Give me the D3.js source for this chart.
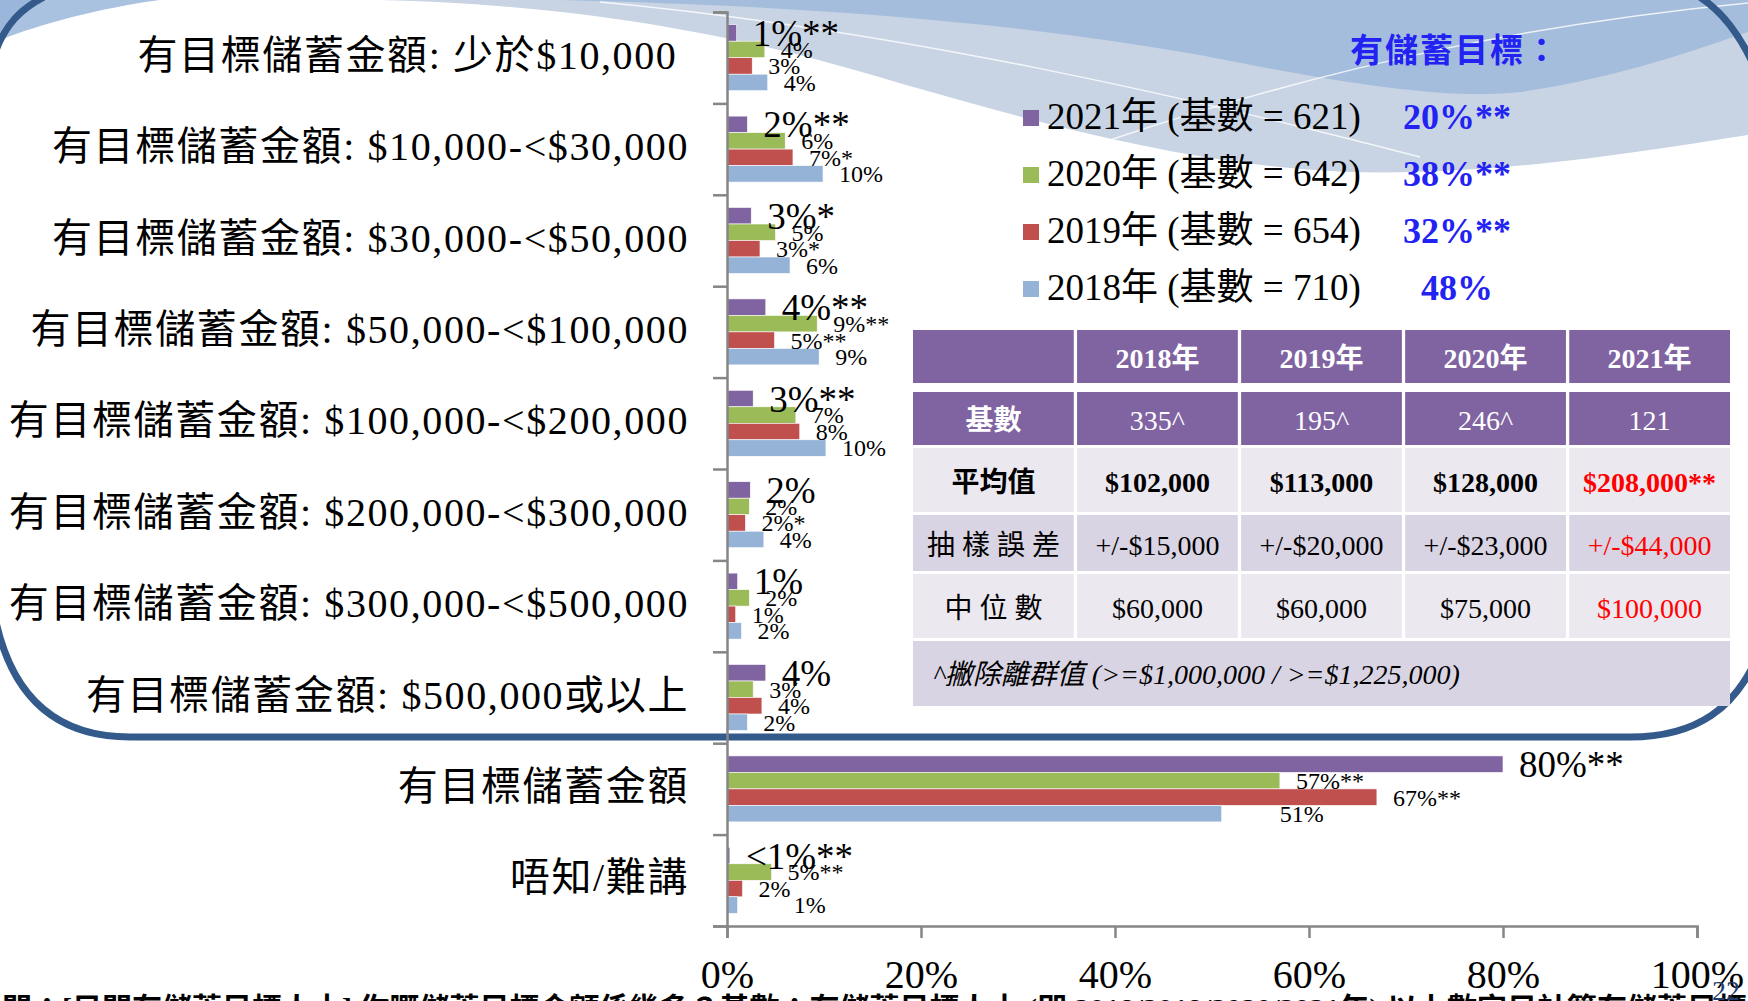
<!DOCTYPE html>
<html>
<head>
<meta charset="utf-8">
<script src="https://cdn.jsdelivr.net/npm/d3@7"></script>
<style>
html, body { margin: 0; padding: 0; background: #fff; overflow: hidden; }
svg { display: block; }
text { font-family: 'Liberation Serif', 'Times New Roman', 'Noto Sans CJK TC', serif; }
</style>
</head>
<body>
<svg id="chart" width="1748" height="1001"></svg>
<script>
// Categories, top to bottom
const categories = [
    '有目標儲蓄金額: 少於$10,000 ',
    '有目標儲蓄金額: $10,000-<$30,000',
    '有目標儲蓄金額: $30,000-<$50,000',
    '有目標儲蓄金額: $50,000-<$100,000',
    '有目標儲蓄金額: $100,000-<$200,000',
    '有目標儲蓄金額: $200,000-<$300,000',
    '有目標儲蓄金額: $300,000-<$500,000',
    '有目標儲蓄金額: $500,000或以上',
    '有目標儲蓄金額',
    '唔知/難講'
];

// Series, drawn top to bottom inside each category
const seriesYears = ['2021', '2020', '2019', '2018'];
const seriesColors = ['#8064A2', '#9BBB59', '#C0504D', '#95B3D7'];

// Bar values (%)
const values2021 = [1.0, 2.1, 2.5, 4.0, 2.7, 2.4, 1.1, 4.0, 80, 0.3];
const values2020 = [3.9, 6.0, 5.0, 9.3, 7.1, 2.3, 2.3, 2.7, 57, 4.6];
const values2019 = [2.6, 6.8, 3.4, 4.9, 7.5, 1.9, 0.9, 3.6, 67, 1.6];
const values2018 = [4.2, 9.9, 6.5, 9.5, 10.2, 3.8, 1.5, 2.1, 51, 1.1];

// Data labels as printed
const labels2021 = ['1%**', '2%**', '3%*', '4%**', '3%**', '2%', '1%', '4%', '80%**', '<1%**'];
const labels2020 = ['4%', '6%', '5%', '9%**', '7%', '2%', '2%', '3%', '57%**', '5%**'];
const labels2019 = ['3%', '7%*', '3%*', '5%**', '8%', '2%*', '1%', '4%', '67%**', '2%'];
const labels2018 = ['4%', '10%', '6%', '9%', '10%', '4%', '2%', '2%', '51%', '1%'];

// X axis ticks
const xTicks = [0, 20, 40, 60, 80, 100];

// Legend
const legendYears = ['2021年', '2020年', '2019年', '2018年'];
const legendBases = [621, 642, 654, 710];
const goalShares = ['20%**', '38%**', '32%**', '48%'];

// Table
const tableYears = ['2018年', '2019年', '2020年', '2021年'];
const baseCounts = ['335^', '195^', '246^', '121'];
const means = ['$102,000', '$113,000', '$128,000', '$208,000**'];
const samplingErrors = ['+/-$15,000', '+/-$20,000', '+/-$23,000', '+/-$44,000'];
const medians = ['$60,000', '$60,000', '$75,000', '$100,000'];
const tableNote = '^撇除離群值 (>=$1,000,000 / >=$1,225,000)';

const svg = d3.select('#chart');

// ---------- slide background decoration ----------
const deco = svg.append('g');
deco.append('path')
    .attr('d', 'M380,0 C560,4 700,30 800,55 C950,95 1150,165 1350,172 C1500,176 1650,150 1748,135 L1748,0 Z')
    .attr('fill', '#C8D4E3');
deco.append('path')
    .attr('d', 'M560,0 C800,6 1000,20 1200,55 C1350,85 1450,100 1520,92 C1620,78 1700,48 1748,32 L1748,0 Z')
    .attr('fill', '#A5BDDC');
deco.append('path')
    .attr('d', 'M0,0 L0,50 C5,25 20,8 48,0 Z')
    .attr('fill', '#9AB6DA');
deco.append('path')
    .attr('d', 'M48,0 C20,8 5,25 0,50 L0,40 C40,24 100,8 160,0 Z')
    .attr('fill', '#A9C2E0');
deco.append('path')
    .attr('d', 'M600,2 C900,30 1200,100 1420,157')
    .attr('fill', 'none').attr('stroke', '#fff').attr('stroke-width', 1.5).attr('opacity', 0.8);
deco.append('path')
    .attr('d', 'M1110,140 C1350,60 1550,22 1748,3')
    .attr('fill', 'none').attr('stroke', '#fff').attr('stroke-width', 1.5).attr('opacity', 0.8);

// frame line
const frameColor = '#335A8A';
deco.append('path')
    .attr('d', 'M-8,600 C5,690 50,737 130,737 L1630,737 C1700,737 1735,705 1756,660')
    .attr('fill', 'none').attr('stroke', frameColor).attr('stroke-width', 7);
deco.append('path')
    .attr('d', 'M-6,55 C5,25 20,8 50,-6')
    .attr('fill', 'none').attr('stroke', frameColor).attr('stroke-width', 7);
deco.append('path')
    .attr('d', 'M1695,-6 C1722,10 1740,35 1756,70')
    .attr('fill', 'none').attr('stroke', frameColor).attr('stroke-width', 7);

// ---------- bar chart ----------
const x = d3.scaleLinear().domain([0, 100]).range([727, 1697]);
const y = d3.scaleBand().domain(categories).range([12, 926]).paddingInner(0).paddingOuter(0);
const ySub = d3.scaleBand().domain(seriesYears).range([0, y.bandwidth()]).paddingInner(0).paddingOuter(0.77);
const yLin = d3.scaleLinear().domain([0, categories.length]).range([12, 926]);

const seriesValues = [values2021, values2020, values2019, values2018];
const seriesLabels = [labels2021, labels2020, labels2019, labels2018];

const rows = [];
categories.forEach((c, i) => {
    seriesYears.forEach((yr, s) => {
        rows.push({ cat: c, ci: i, year: yr, si: s, value: seriesValues[s][i], label: seriesLabels[s][i] });
    });
});

// a couple of labels sit further out in the original
const labelNudge = { '8|2018': 42, '9|2018': 40 };

const chart = svg.append('g');

chart.selectAll('rect.bar')
    .data(rows)
    .enter()
    .append('rect')
    .attr('class', 'bar')
    .attr('x', x(0))
    .attr('y', d => y(d.cat) + ySub(d.year))
    .attr('width', d => x(d.value) - x(0))
    .attr('height', ySub.bandwidth())
    .attr('fill', d => seriesColors[d.si])
    .attr('stroke', '#fff')
    .attr('stroke-width', 0.6);

// axes
const axisColor = '#868686';
const leftAxis = chart.append('g')
    .attr('transform', `translate(${x(0)},0)`)
    .call(d3.axisLeft(yLin).ticks(categories.length).tickSize(14).tickFormat(''));
const bottomAxis = chart.append('g')
    .attr('transform', 'translate(0,926)')
    .call(d3.axisBottom(x).tickValues(xTicks).tickSize(12).tickPadding(22).tickFormat(d => d + '%'));
[leftAxis, bottomAxis].forEach(a => {
    a.select('.domain').attr('stroke', axisColor).attr('stroke-width', 2.5);
    a.selectAll('.tick line').attr('stroke', axisColor).attr('stroke-width', 2.5);
});
bottomAxis.selectAll('.tick text')
    .attr('fill', '#000')
    .style('font-size', '40px')
    .style('font-family', "'Liberation Serif', serif");

// category labels
chart.selectAll('text.cat')
    .data(categories)
    .enter()
    .append('text')
    .attr('class', 'cat')
    .attr('x', 689)
    .attr('y', d => y(d) + y.bandwidth() / 2 - 3)
    .attr('dy', '0.35em')
    .attr('text-anchor', 'end')
    .style('font-size', '40px')
    .style('letter-spacing', '1.6px')
    .style('white-space', 'pre')
    .attr('fill', '#000')
    .text(d => d);

// data labels
chart.selectAll('text.val')
    .data(rows)
    .enter()
    .append('text')
    .attr('class', 'val')
    .attr('x', d => x(d.value) + 16 + (labelNudge[d.ci + '|' + d.year] || 0))
    .attr('y', d => y(d.cat) + ySub(d.year) + ySub.bandwidth() / 2)
    .attr('dy', '0.35em')
    .style('font-size', d => d.si === 0 ? '37px' : '24px')
    .attr('fill', '#000')
    .text(d => d.label);

// ---------- legend ----------
const blueText = '#2222F2';
const legend = svg.append('g');
legend.append('text')
    .attr('x', 1455)
    .attr('y', 50)
    .attr('dy', '0.35em')
    .attr('text-anchor', 'middle')
    .style('font-size', '33px')
    .style('font-weight', 'bold')
    .style('letter-spacing', '2px')
    .attr('fill', blueText)
    .text('有儲蓄目標：');

const legendRows = legend.selectAll('g.lr')
    .data(legendYears)
    .enter()
    .append('g')
    .attr('class', 'lr')
    .attr('transform', (d, i) => `translate(0,${116 + i * 57})`);
legendRows.append('rect')
    .attr('x', 1023).attr('y', -6)
    .attr('width', 16).attr('height', 16)
    .attr('fill', (d, i) => seriesColors[i]);
legendRows.append('text')
    .attr('x', 1047)
    .attr('dy', '0.35em')
    .style('font-size', '37px')
    .attr('fill', '#000')
    .text((d, i) => `${d} (基數 = ${legendBases[i]})`);
legendRows.append('text')
    .attr('x', 1457)
    .attr('dy', '0.35em')
    .attr('text-anchor', 'middle')
    .style('font-size', '36px')
    .style('font-weight', 'bold')
    .attr('fill', blueText)
    .text((d, i) => goalShares[i]);

// ---------- table ----------
const table = svg.append('g');
const col = d3.scaleBand().domain(d3.range(5)).range([913, 1730]).paddingInner(0.02).paddingOuter(0);
const rowBoxes = [[330, 53], [392, 53], [448, 64], [515, 56], [574, 64]];
const tableRows = [
    { head: '', cells: tableYears, fill: '#8064A2', color: '#fff', headWeight: 'bold', weight: 'bold' },
    { head: '基數', cells: baseCounts, fill: '#8064A2', color: '#fff', headWeight: 'bold', weight: 'normal' },
    { head: '平均值', cells: means, fill: '#EBE8F0', color: '#000', headWeight: 'bold', weight: 'bold', redLast: true },
    { head: '抽 樣 誤 差', cells: samplingErrors, fill: '#D9D4E3', color: '#000', headWeight: 'normal', weight: 'normal', redLast: true },
    { head: '中 位 數', cells: medians, fill: '#EBE8F0', color: '#000', headWeight: 'normal', weight: 'normal', redLast: true }
];

tableRows.forEach((r, ri) => {
    const [top, h] = rowBoxes[ri];
    const cellsAll = [r.head].concat(r.cells);
    cellsAll.forEach((t, ci) => {
        table.append('rect')
            .attr('x', col(ci)).attr('y', top)
            .attr('width', col.bandwidth()).attr('height', h)
            .attr('fill', r.fill);
        const red = r.redLast && ci === 4;
        table.append('text')
            .attr('x', col(ci) + col.bandwidth() / 2)
            .attr('y', top + h / 2 + 2)
            .attr('dy', '0.35em')
            .attr('text-anchor', 'middle')
            .style('font-size', '28px')
            .style('font-weight', ci === 0 ? r.headWeight : r.weight)
            .attr('fill', red ? '#FF0000' : r.color)
            .text(t);
    });
});
table.append('rect')
    .attr('x', col(0)).attr('y', 641)
    .attr('width', col(4) + col.bandwidth() - col(0)).attr('height', 65)
    .attr('fill', '#D9D4E3');
table.append('text')
    .attr('x', 933).attr('y', 674)
    .attr('dy', '0.35em')
    .style('font-size', '28px')
    .style('font-style', 'italic')
    .attr('fill', '#000')
    .text(tableNote);

// ---------- footer ----------
svg.append('text')
    .attr('x', 2).attr('y', 1019)
    .style('font-size', '30px')
    .style('font-weight', 'bold')
    .attr('fill', '#000')
    .text('問：[只問有儲蓄目標人士] 你嘅儲蓄目標金額係幾多？基數：有儲蓄目標人士 (即 2018/2019/2020/2021年) 以上數字只計算有儲蓄目標人士');
svg.append('text')
    .attr('x', 1726).attr('y', 1000)
    .attr('text-anchor', 'middle')
    .style('font-size', '28px')
    .attr('fill', '#1F3D6B')
    .text('22');
</script>
</body>
</html>
